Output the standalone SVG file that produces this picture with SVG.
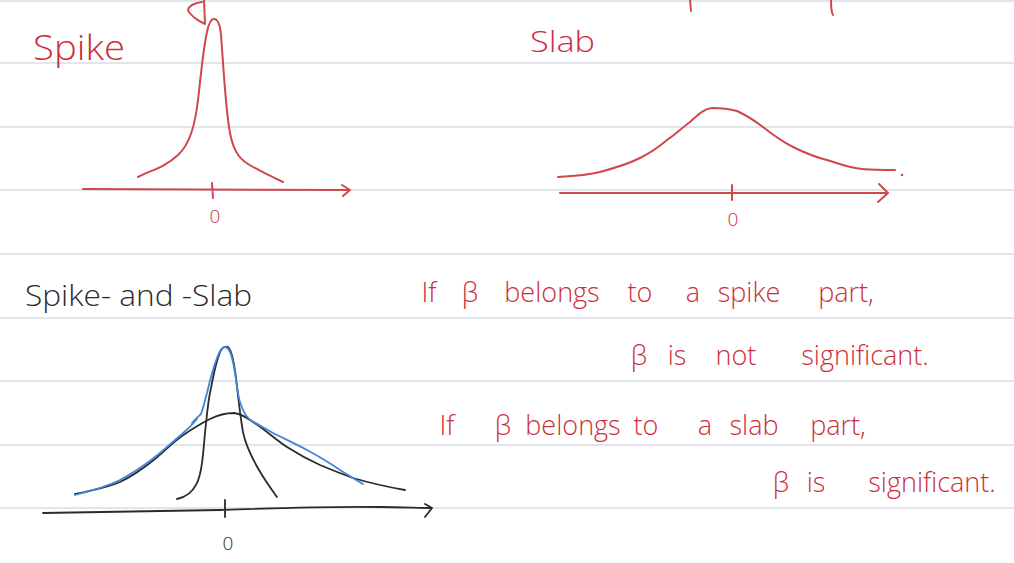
<svg xmlns="http://www.w3.org/2000/svg" width="1014" height="563" viewBox="0 0 1014 563">
<style>
.rule{stroke:#d9dde6;stroke-width:1.5}
.red{fill:none;stroke:#d0474c;stroke-width:2;stroke-linecap:round;stroke-linejoin:round}
.blk{fill:none;stroke:#2b2b2b;stroke-width:1.8;stroke-linecap:round;stroke-linejoin:round}
.blu{fill:none;stroke:#3f86d6;stroke-width:1.8;stroke-linecap:round;stroke-linejoin:round}
.rt{font-family:"Open Sans","Liberation Sans",sans-serif;font-weight:300;fill:#cc2f3c}
.bt{font-family:"Open Sans","Liberation Sans",sans-serif;font-weight:300;fill:#2b2b2b}
#notes text{font-size:27px;text-anchor:middle}
</style>
<rect width="1014" height="563" fill="#ffffff"/>
<g id="rules">
<line class="rule" x1="0" y1="1" x2="1014" y2="1"/>
<line class="rule" x1="0" y1="63" x2="1014" y2="63"/>
<line class="rule" x1="0" y1="127" x2="1014" y2="127"/>
<line class="rule" x1="0" y1="190" x2="1014" y2="190"/>
<line class="rule" x1="0" y1="254" x2="1014" y2="254"/>
<line class="rule" x1="0" y1="318" x2="1014" y2="318"/>
<line class="rule" x1="0" y1="381" x2="1014" y2="381"/>
<line class="rule" x1="0" y1="445" x2="1014" y2="445"/>
<line class="rule" x1="0" y1="508" x2="1014" y2="508"/>
</g>
<g id="top-strokes">
<path class="red" d="M204,0 L205,24 C198,21 190,15 188,10 C189,6 195,3 202,2"/>
<path class="red" d="M690,0 L691,11"/>
<path class="red" d="M831,0 C831,6 831,12 833,15"/>
</g>
<g id="spike">
<text class="rt" x="33" y="60" font-size="34" textLength="92" lengthAdjust="spacingAndGlyphs">Spike</text>
<path class="red" d="M138,177 C152,170 165,167 178,155 C190,144 195,125 198,100 C201,75 203,50 207,32 C209,22 212,19 214,19 C218,19 220,24 221,35 C223,60 225,100 229,127 C232,148 238,158 248,164 C258,170 268,175 283,182"/>
<path class="red" d="M83,189 L350,190 M342,185 L350,190 L343,196 M212,183 L213,198"/>
<text class="rt" x="215" y="223" font-size="19" text-anchor="middle">0</text>
</g>
<g id="slab">
<text class="rt" x="530" y="52" font-size="30" textLength="65" lengthAdjust="spacingAndGlyphs">Slab</text>
<path class="red" d="M558,177 C575,176 588,175 600,172 C615,168 628,164 640,158 C652,152 660,146 667,140 C677,133 683,127 690,122 C698,115 703,109 712,108 C720,108 730,109 737,111 C748,116 755,121 763,127 C773,135 783,142 793,147 C805,153 815,157 827,160 C840,164 850,168 862,169 C875,170 885,170 895,170"/>
<circle cx="902" cy="175" r="1.3" fill="#d0474c"/>
<path class="red" d="M560,193 L887,193 M879,184 L888,193 L878,202 M732,185 L732,200"/>
<text class="rt" x="733" y="226" font-size="19" text-anchor="middle">0</text>
</g>
<g id="spike-and-slab">
<text class="bt" x="25" y="306" font-size="30" textLength="227" lengthAdjust="spacingAndGlyphs">Spike- and -Slab</text>
<path class="blk" d="M43,513 C120,512 170,511 220,510 C280,508 330,506 380,507 C400,507 420,508 432,508 M425,504 L432,508 L425,517 M225,500 L225,517"/>
<path class="blk" d="M177,499 C186,497 192,493 197,483 C202,472 203,455 205,433 C207,415 208,400 211,388 C214,372 217,358 221,350 C223,347 226,346 228,347 C232,350 234,362 236,378 C238,395 240,415 243,432 C246,447 252,458 259,470 C266,482 272,490 277,497"/>
<path class="blk" d="M75,494 C95,490 108,487 120,482 C135,475 145,467 155,459 C165,451 172,443 182,436 C192,429 200,424 210,419 C218,415 226,413 234,413 C242,414 248,418 256,424 C268,432 276,440 287,447 C298,454 309,460 320,465 C332,470 342,474 353,478 C370,483 388,487 405,490"/>
<path class="blu" d="M75,495 C95,490 108,486 120,480 C135,472 148,463 160,453 C168,446 175,440 182,434 C188,429 193,424 197,419 M192,423 C196,418 199,416 201,414 C204,406 205,400 207,393 C210,380 213,368 217,358 C220,350 222,347 225,347 C229,347 231,353 233,362 C236,375 237,392 240,402 C243,412 246,418 252,421 C259,425 266,429 273,433 C285,439 296,444 307,450 C318,456 330,463 340,470 C348,475 356,480 363,484"/>
<text class="bt" x="228" y="550" font-size="19" text-anchor="middle">0</text>
</g>
<g id="notes" class="rt">
<text x="429" y="302">If</text>
<text x="470" y="302">β</text>
<text x="552" y="302">belongs</text>
<text x="640" y="302">to</text>
<text x="693" y="302">a</text>
<text x="749" y="302">spike</text>
<text x="846" y="302">part,</text>
<text x="639" y="365">β</text>
<text x="677" y="365">is</text>
<text x="736" y="365">not</text>
<text x="865" y="365">significant.</text>
<text x="447" y="435">If</text>
<text x="503" y="435">β</text>
<text x="573" y="435">belongs</text>
<text x="646" y="435">to</text>
<text x="705" y="435">a</text>
<text x="754" y="435">slab</text>
<text x="838" y="435">part,</text>
<text x="781" y="492">β</text>
<text x="816" y="492">is</text>
<text x="932" y="492">significant.</text>
</g>
</svg>
